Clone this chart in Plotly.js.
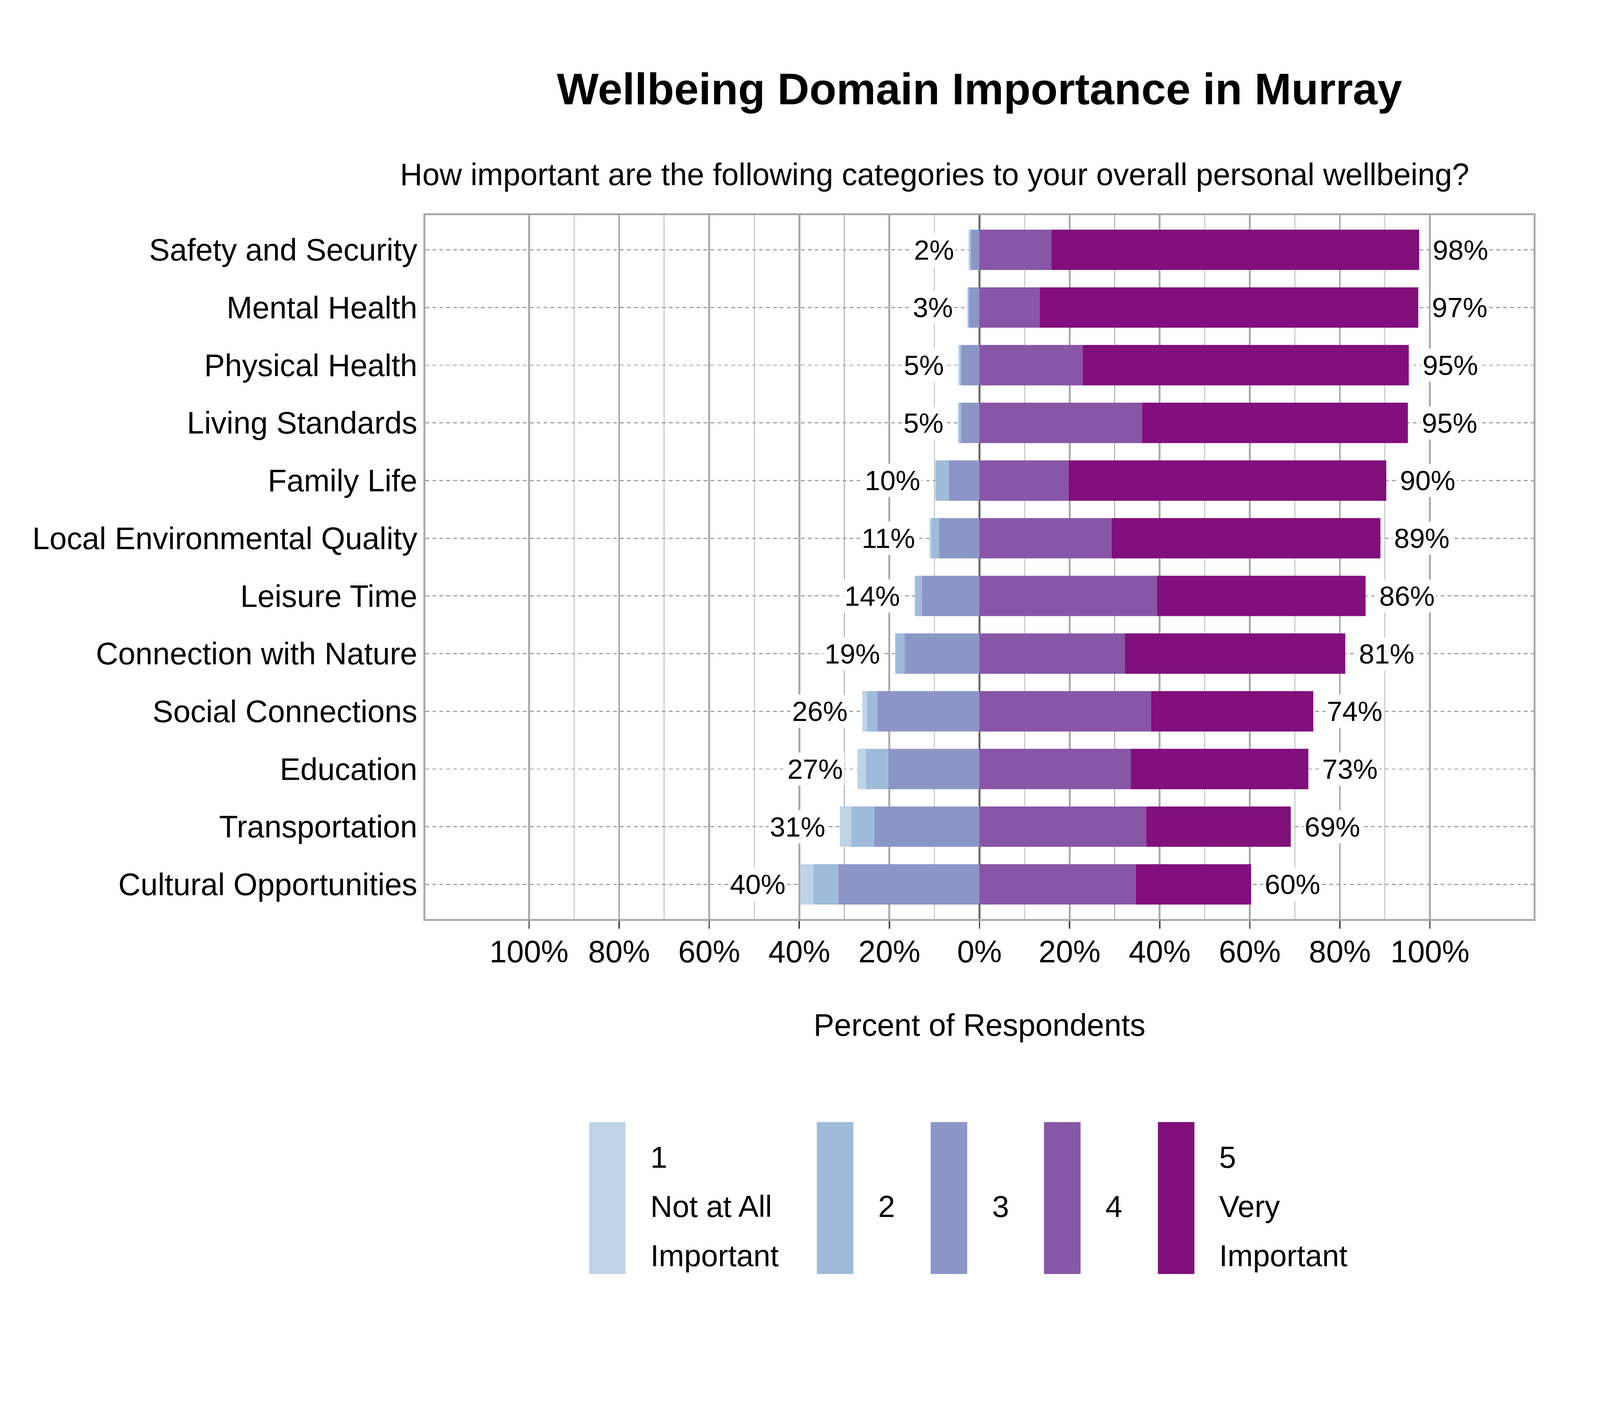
<!DOCTYPE html>
<html>
<head>
<meta charset="utf-8">
<script src="https://cdn.plot.ly/plotly-3.0.1.min.js"></script>
<style>html,body{margin:0;padding:0;background:#fff;overflow:hidden;}</style>
</head>
<body>
<div id="chart"></div>
<script>
// ---------------- data ----------------
const categories = [
  "Safety and Security", "Mental Health", "Physical Health", "Living Standards",
  "Family Life", "Local Environmental Quality", "Leisure Time", "Connection with Nature",
  "Social Connections", "Education", "Transportation", "Cultural Opportunities"
];
// percent of respondents per rating
const rating1 = [0.2, 0.1, 0.3, 0.2, 0.2, 0.4, 0.1, 0.2, 1.0, 1.9, 2.5, 2.9];
const rating2 = [0.3, 0.3, 0.3, 0.5, 2.9, 1.7, 1.5, 2.0, 2.3, 4.9, 5.1, 5.5];
const rating3 = [1.9, 2.3, 4.1, 4.1, 6.8, 9.0, 12.8, 16.6, 22.7, 20.3, 23.4, 31.4];
const rating4 = [16.0, 13.4, 22.9, 36.1, 19.8, 29.3, 39.4, 32.3, 38.1, 33.6, 37.0, 34.7];
const rating5 = [81.6, 84.0, 72.4, 59.0, 70.5, 59.7, 46.3, 48.9, 36.0, 39.4, 32.1, 25.6];

const ratingNames = ["1", "2", "3", "4", "5"];
const legendLines = [["1", "Not at All", "Important"], ["2"], ["3"], ["4"], ["5", "Very", "Important"]];
const colors = ["#bfd3e6", "#9ebcda", "#8c96c6", "#8856a7", "#810f7c"];

const tickVals = [-100, -80, -60, -40, -20, 0, 20, 40, 60, 80, 100];
const tickText = ["100%", "80%", "60%", "40%", "20%", "0%", "20%", "40%", "60%", "80%", "100%"];
const minorTickVals = [-90, -70, -50, -30, -10, 10, 30, 50, 70, 90];

const titleText = "Wellbeing Domain Importance in Murray";
const subtitleText = "How important are the following categories to your overall personal wellbeing?";
const xTitleText = "Percent of Respondents";

// ---------------- layout helpers ----------------
const FONT = "Liberation Sans, Arial, Helvetica, sans-serif";
const BW = 6000, BH = 3600;                        // design size (reference)
const W = window.innerWidth, H = window.innerHeight;
const SX = W / BW, SY = H / BH;
const kx = v => v * SX;                            // horizontal design px -> css px
const ky = v => v * SY;                            // vertical design px -> css px
const ML = 1595, MR = 249, MT = 551, MB = 1247;    // design margins
const plotTop = ky(MT), plotBot = H - ky(MB), plotH = plotBot - plotTop;
const plotL = kx(ML), plotW = W - kx(ML) - kx(MR);
const px2x = px => (kx(px) - plotL) / plotW;
const cssY2y = cy => (plotBot - cy) / plotH;
// paper y of a text line whose visual middle is at design y
const midY = dy => cssY2y(ky(dy));

const el = document.getElementById("chart");
el.style.width = W + "px";
el.style.height = H + "px";

const F_TICK = kx(116), F_LABEL = kx(104), F_TITLE = kx(166), F_SUB = kx(116), F_LEG = kx(114);

const neg = a => a.map(v => -v);

const traces = [
  {name: ratingNames[2], x: neg(rating3), color: colors[2]},
  {name: ratingNames[1], x: neg(rating2), color: colors[1]},
  {name: ratingNames[0], x: neg(rating1), color: colors[0]},
  {name: ratingNames[3], x: rating4, color: colors[3]},
  {name: ratingNames[4], x: rating5, color: colors[4]}
].map(t => ({
  type: "bar", orientation: "h", name: t.name, y: categories, x: t.x,
  marker: {color: t.color, line: {width: 0}}, showlegend: false,
  hovertemplate: "%{y}: %{x}<extra>" + t.name + "</extra>"
}));

const annotations = [];
categories.forEach((c, i) => {
  const left = rating1[i] + rating2[i] + rating3[i];
  const right = rating4[i] + rating5[i];
  annotations.push({
    x: -left, y: c, xref: "x", yref: "y", text: Math.round(left) + "%",
    showarrow: false, xanchor: "right", yanchor: "middle", xshift: -kx(49),
    bgcolor: "#ffffff", borderpad: kx(4), font: {family: FONT, size: F_LABEL, color: "#000"}
  });
  annotations.push({
    x: right, y: c, xref: "x", yref: "y", text: Math.round(right) + "%",
    showarrow: false, xanchor: "left", yanchor: "middle", xshift: kx(46),
    bgcolor: "#ffffff", borderpad: kx(4), font: {family: FONT, size: F_LABEL, color: "#000"}
  });
});

// subtitle
annotations.push({
  text: subtitleText, xref: "paper", yref: "paper", x: px2x(3504), y: midY(446),
  xanchor: "center", yanchor: "middle", showarrow: false,
  font: {family: FONT, size: F_SUB, color: "#000"}
});

// custom legend
const swatchX = [2209, 3063, 3490, 3915, 4342];
const swatchW = 137;
const shapes = [];
const lineMids = [2963, 3089, 3215];
colors.forEach((col, i) => {
  shapes.push({
    type: "rect", xref: "paper", yref: "paper",
    x0: px2x(swatchX[i]), x1: px2x(swatchX[i] + swatchW),
    y0: midY(3262), y1: midY(2873),
    fillcolor: col, line: {width: 0}, layer: "above"
  });
  const lines = legendLines[i];
  const mids = lines.length === 1 ? [lineMids[1]] : lineMids;
  lines.forEach((ln, j) => {
    annotations.push({
      text: ln, xref: "paper", yref: "paper",
      x: px2x(swatchX[i] + swatchW + 90), y: midY(mids[j]),
      xanchor: "left", yanchor: "middle", showarrow: false,
      font: {family: FONT, size: F_LEG, color: "#000"}
    });
  });
});

const layout = {
  width: W, height: H,
  margin: {l: kx(ML), r: kx(MR), t: ky(MT), b: ky(MB), pad: 0},
  paper_bgcolor: "#ffffff", plot_bgcolor: "#ffffff",
  font: {family: FONT, size: F_TICK, color: "#000"},
  title: {
    text: "<b>" + titleText + "</b>",
    font: {family: FONT, size: F_TITLE, color: "#000"},
    x: 0.5, xref: "paper", xanchor: "center",
    y: 1 - ky(227) / H, yref: "container", yanchor: "middle"
  },
  barmode: "relative",
  bargap: 0.3,
  showlegend: false,
  xaxis: {
    range: [-123, 123], autorange: false,
    tickmode: "array", tickvals: tickVals, ticktext: tickText,
    tickfont: {family: FONT, size: F_TICK, color: "#000"},
    ticks: "outside", ticklen: ky(20), tickwidth: kx(5), tickcolor: "#444",
    ticklabelstandoff: ky(-9),
    showgrid: true, gridcolor: "#aaaaaa", gridwidth: kx(7),
    minor: {tickmode: "array", tickvals: minorTickVals, showgrid: true, gridcolor: "#b8b8b8", gridwidth: kx(3), ticks: ""},
    zeroline: true, zerolinecolor: "#666666", zerolinewidth: kx(7),
    showline: true, mirror: true, linecolor: "#aaaaaa", linewidth: kx(7),
    title: {text: xTitleText, font: {family: FONT, size: F_TICK, color: "#000"}, standoff: ky(118)},
    automargin: false, fixedrange: true
  },
  yaxis: {
    type: "category", categoryorder: "array", categoryarray: categories,
    range: [11.6, -0.6], autorange: false,
    tickfont: {family: FONT, size: F_TICK, color: "#000"},
    ticks: "", ticklabelstandoff: kx(4),
    showgrid: true, gridcolor: "#a0a0a0", gridwidth: kx(4),
    griddash: kx(14).toFixed(1) + "px," + kx(12).toFixed(1) + "px",
    zeroline: false,
    showline: true, mirror: true, linecolor: "#aaaaaa", linewidth: kx(7),
    automargin: false, fixedrange: true
  },
  shapes: shapes,
  annotations: annotations
};

Plotly.newPlot("chart", traces, layout, {displayModeBar: false, staticPlot: true});
</script>
</body>
</html>
